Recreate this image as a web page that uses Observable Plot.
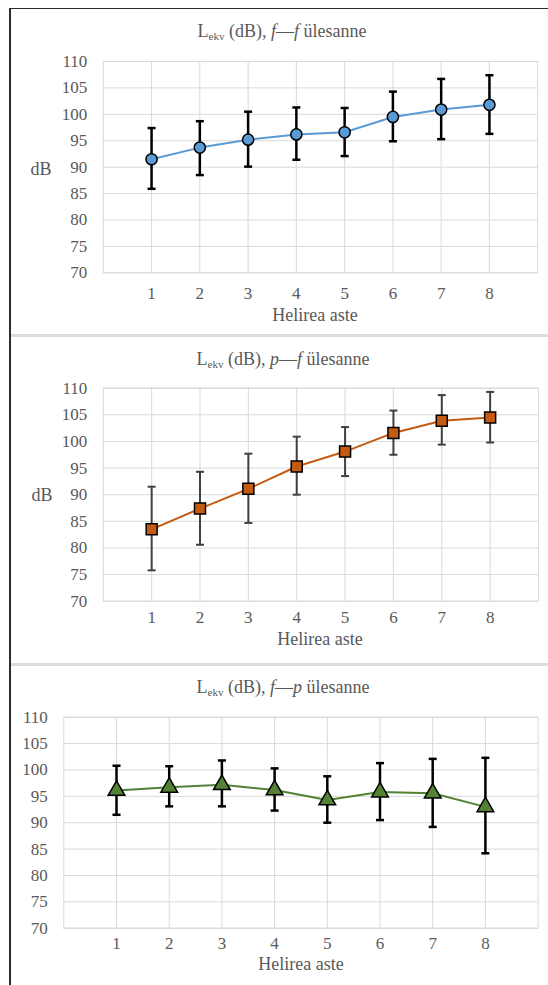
<!DOCTYPE html>
<html>
<head>
<meta charset="utf-8">
<script src="https://cdn.jsdelivr.net/npm/d3@7"></script>
<script src="https://cdn.jsdelivr.net/npm/@observablehq/plot@0.6"></script>
<style>
  html, body { margin: 0; padding: 0; background: #fff; }
  #page { position: relative; width: 548px; height: 985px; overflow: hidden; font-family: "Liberation Serif", "Times New Roman", "DejaVu Serif", serif; color: #595959; }
  #page svg, #page svg text, #page svg g { font-family: "Liberation Serif", "Times New Roman", "DejaVu Serif", serif !important; }
  .panel { position: absolute; left: 0; }
  .txt { position: absolute; white-space: nowrap; transform: translateX(-50%); font-size: 18px; line-height: 18px; }
  .txt sub { font-size: 0.62em; vertical-align: baseline; position: relative; top: 0.25em; }
  .ylab { position: absolute; font-size: 18px; line-height: 18px; transform: translateX(-50%); }
  .line { position: absolute; z-index: 5; }
</style>
</head>
<body>
<div id="page"></div>
<script>
// ---- data ----
const categories = [1, 2, 3, 4, 5, 6, 7, 8];
const yTicks = [70, 75, 80, 85, 90, 95, 100, 105, 110];

const ffMean = [91.5, 93.7, 95.2, 96.2, 96.6, 99.5, 100.9, 101.8];
const ffHigh = [97.4, 98.7, 100.5, 101.3, 101.2, 104.3, 106.7, 107.4];
const ffLow  = [85.9, 88.5, 90.1, 91.4, 92.1, 94.9, 95.3, 96.3];

const pfMean = [83.5, 87.4, 91.1, 95.3, 98.1, 101.6, 103.9, 104.5];
const pfHigh = [91.5, 94.3, 97.7, 100.9, 102.7, 105.8, 108.7, 109.3];
const pfLow  = [75.8, 80.6, 84.7, 90.0, 93.5, 97.5, 99.4, 99.8];

const fpMean = [96.1, 96.7, 97.2, 96.2, 94.3, 95.8, 95.6, 93.0];
const fpHigh = [100.8, 100.7, 101.8, 100.3, 98.8, 101.3, 102.1, 102.3];
const fpLow  = [91.5, 93.1, 93.1, 92.3, 90.0, 90.5, 89.2, 84.2];

const xLabel = "Helirea aste";
const yLabel = "dB";

const rows = (m, lo, hi) => categories.map((k, i) => ({k, mean: m[i], low: lo[i], high: hi[i]}));

const cap = {draw(ctx, size) { const w = Math.sqrt(size / Math.PI); ctx.moveTo(-w, 0); ctx.lineTo(w, 0); }};

const page = document.getElementById("page");
const serif = '"Liberation Serif", "Times New Roman", "DejaVu Serif", serif';

function panel({top, height, mt, mb, ml, mr, xpad, data, color, symbol, r, errColor, errWidth}) {
  const svg = Plot.plot({
    width: 548, height, marginTop: mt, marginBottom: mb, marginLeft: ml, marginRight: mr,
    x: {domain: [0, 9]},
    y: {domain: [70, 110]},
    style: {fontFamily: serif, fontSize: "17px", color: "#595959", background: "transparent", overflow: "visible"},
    marks: [
      Plot.gridY(yTicks, {stroke: "#d9d9d9", strokeOpacity: 1}),
      Plot.gridX(categories, {stroke: "#d9d9d9", strokeOpacity: 1}),
      Plot.frame({stroke: "#d9d9d9"}),
      Plot.axisY(yTicks, {tickSize: 0, tickPadding: 16, label: null, fill: "#595959", fontSize: 17, fontFamily: serif}),
      Plot.axisX(categories, {tickSize: 0, tickPadding: xpad, label: null, fill: "#595959", fontSize: 17, fontFamily: serif}),
      Plot.line(data, {x: "k", y: "mean", stroke: color, strokeWidth: 2}),
      Plot.ruleX(data, {x: "k", y1: "low", y2: "high", stroke: errColor, strokeWidth: errWidth}),
      Plot.dot(data, {x: "k", y: "low", symbol: cap, r: 4, stroke: errColor, strokeWidth: errWidth}),
      Plot.dot(data, {x: "k", y: "high", symbol: cap, r: 4, stroke: errColor, strokeWidth: errWidth}),
      Plot.dot(data, {x: "k", y: "mean", symbol, r, fill: color, stroke: "black", strokeWidth: 1.5})
    ]
  });
  const wrap = document.createElement("div");
  wrap.className = "panel";
  wrap.style.top = top + "px";
  wrap.appendChild(svg);
  page.appendChild(wrap);
}

function addText(html, cls, x, y) {
  const d = document.createElement("div");
  d.className = cls;
  d.innerHTML = html;
  d.style.left = x + "px";
  d.style.top = (y - 9) + "px";
  page.appendChild(d);
}

function addLine(x, y, w, h, c) {
  const d = document.createElement("div");
  d.className = "line";
  Object.assign(d.style, {left: x + "px", top: y + "px", width: w + "px", height: h + "px", background: c});
  page.appendChild(d);
}

panel({top: 0, height: 335, mt: 61, mb: 62.7, ml: 102.8, mr: 10.8, xpad: 14.5,
  data: rows(ffMean, ffLow, ffHigh), color: "#5b9bd5", symbol: "circle", r: 5.6, errColor: "#000", errWidth: 2.5});
panel({top: 335, height: 329, mt: 52.7, mb: 63.3, ml: 102.8, mr: 10, xpad: 9.5,
  data: rows(pfMean, pfLow, pfHigh), color: "#c55a11", symbol: "square", r: 6.2, errColor: "#404040", errWidth: 2});
panel({top: 664, height: 321, mt: 52.7, mb: 57.3, ml: 63.3, mr: 10.4, xpad: 8.5,
  data: rows(fpMean, fpLow, fpHigh), color: "#548235", symbol: "triangle", r: 6.2, errColor: "#000", errWidth: 2.5});

addText('L<sub>ekv</sub> (dB), <i>f</i>—<i>f</i> ülesanne', "txt", 282, 31);
addText(xLabel, "txt", 315, 315);
addText(yLabel, "ylab", 41, 169);

addText('L<sub>ekv</sub> (dB), <i>p</i>—<i>f</i> ülesanne', "txt", 283, 359);
addText(xLabel, "txt", 320, 638.5);
addText(yLabel, "ylab", 42, 495);

addText('L<sub>ekv</sub> (dB), <i>f</i>—<i>p</i> ülesanne', "txt", 283, 687);
addText(xLabel, "txt", 301, 963.5);

// panel borders
addLine(9, 7.5, 539, 1.6, "#2b2b2b");
addLine(9, 7.5, 1.6, 978, "#2b2b2b");
addLine(10.6, 334, 538, 3, "#dcdcdc");
addLine(10.6, 662.5, 538, 3, "#dcdcdc");
</script>
</body>
</html>
